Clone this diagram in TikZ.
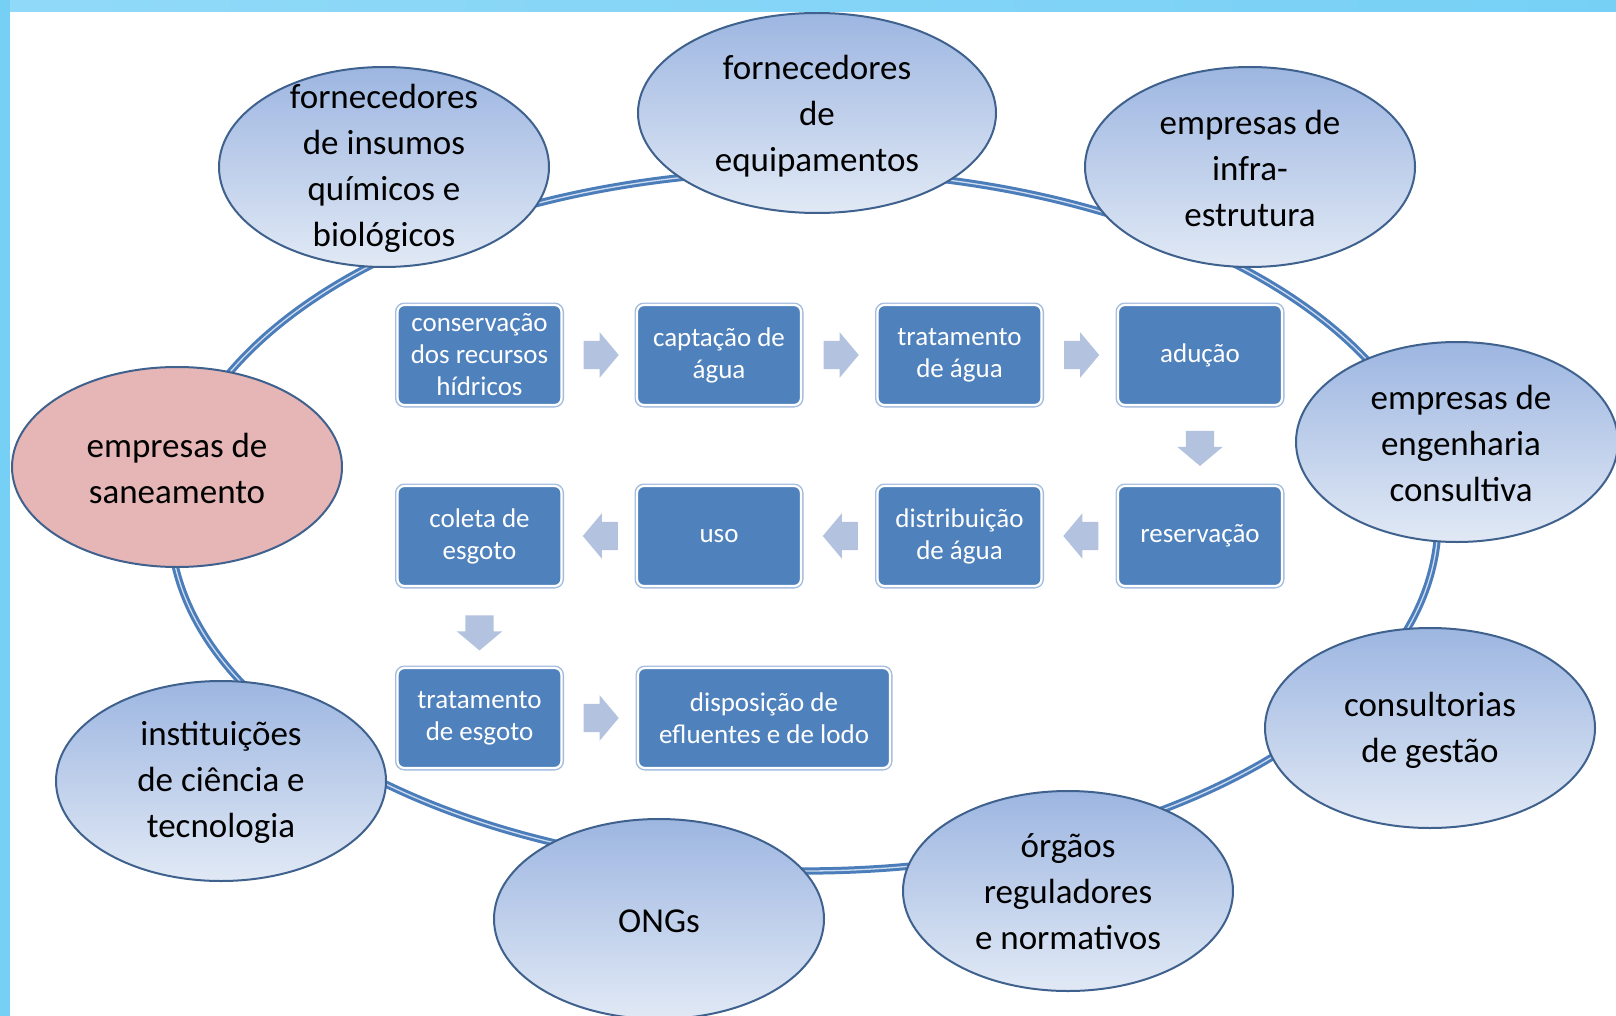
\documentclass[tikz,border=0pt]{standalone}
\usepackage{fontspec}
\setmainfont{Carlito}
\usetikzlibrary{shapes.geometric,shapes.arrows,calc}
\definecolor{boxblue}{HTML}{4F81BD}
\definecolor{boxedge}{HTML}{A3BBDD}
\definecolor{arrowc}{HTML}{B3C3DF}
\definecolor{bubtop}{HTML}{9DB6E1}
\definecolor{bubbot}{HTML}{E1E9F5}
\definecolor{bubedge}{HTML}{3F618D}
\definecolor{pinkfill}{HTML}{E6B5B5}
\definecolor{ringblue}{HTML}{4A7DBA}
\definecolor{ringlight}{HTML}{CFDCEF}
\definecolor{barblue}{HTML}{76D0F6}
\definecolor{barlight}{HTML}{DDF1FC}
\tikzset{
  bubble/.style={ellipse, draw=bubedge, line width=2pt, top color=bubtop, bottom color=bubbot,
    minimum width=330pt, minimum height=200pt, inner sep=0pt},
  pinkbubble/.style={ellipse, draw=bubedge, line width=2pt, fill=pinkfill,
    minimum width=330pt, minimum height=200pt, inner sep=0pt},
  btxt/.style={align=center, text=black, inner sep=0pt, font=\fontsize{35pt}{46pt}\selectfont},
  stepbox/.style={rectangle, rounded corners=7pt, fill=boxblue, draw=white, line width=2.2pt,
    preaction={draw=boxedge, line width=5pt},
    minimum width=164pt, minimum height=100pt, inner sep=2pt, align=center, text=white,
    font=\fontsize{27pt}{32pt}\selectfont},
  flow/.style={single arrow, fill=arrowc, draw=none, inner xsep=0pt, inner ysep=14pt,
    minimum height=35pt, minimum width=45pt, single arrow head extend=8.5pt,
    single arrow tip angle=100},
  ring/.style={draw=ringblue, line width=3pt, double=ringlight, double distance=1.3pt}
}
\begin{document}
\begin{tikzpicture}[x=1pt,y=-1pt]
\useasboundingbox (0,0) rectangle (1616,1016);
\clip (0,0) rectangle (1616,1016);
\fill[white] (0,0) rectangle (1616,1016);

% ring
\coordinate (rc) at (804,521);
\draw[ring] (rc) ellipse [x radius=634pt, y radius=350pt];

% outer bubbles
\node[bubble] (e1) at (384,167) {};
\node[bubble, minimum width=358pt] (e2) at (817,113) {};
\node[bubble] (e3) at (1250,167) {};
\node[bubble, minimum width=322pt] (e4) at (1457,442) {};
\node[bubble] (e5) at (1430,728) {};
\node[bubble] (e6) at (1068,891) {};
\node[bubble] (e7) at (659,919) {};
\node[bubble] (e8) at (221,781) {};
\node[pinkbubble] (e9) at (177,467) {};

\node[btxt] (t1) at ($(e1)+(0,1)$) {fornecedores\\de insumos\\químicos e\\biológicos};
\node[btxt] (t2) at ($(e2)+(0,3)$) {fornecedores\\de\\equipamentos};
\node[btxt] (t3) at ($(e3)+(0,1)$) {empresas de\\infra-\\estrutura};
\node[btxt] (t4) at ($(e4)+(4,1)$) {empresas de\\engenharia\\consultiva};
\node[btxt] (t5) at ($(e5)+(0,2)$) {consultorias\\de gestão};
\node[btxt] (t6) at ($(e6)+(0,1)$) {órgãos\\reguladores\\e normativos};
\node[btxt] (t7) at ($(e7)+(0,2)$) {ONGs};
\node[btxt] (t8) at ($(e8)+(0,1)$) {instituições\\de ciência e\\tecnologia};
\node[btxt] (t9) at ($(e9)+(0,1)$) {empresas de\\saneamento};

% process boxes
\node[stepbox] (b1) at (479.5,355) {conservação\\dos recursos\\hídricos};
\node[stepbox] (b2) at (719,355) {captação de\\água};
\node[stepbox] (b3) at (959.5,355) {tratamento\\de água};
\node[stepbox] (b4) at (1200,355) {adução};
\node[stepbox] (b5) at (1200,536) {reservação};
\node[stepbox] (b6) at (959.5,536) {distribuição\\de água};
\node[stepbox] (b7) at (719,536) {uso};
\node[stepbox] (b8) at (479.5,536) {coleta de\\esgoto};
\node[stepbox] (b9) at (479.5,718) {tratamento\\de esgoto};
\node[stepbox, minimum width=252pt] (b10) at (764,718) {disposição de\\efluentes e de lodo};

% block arrows
\node[flow] (a12) at ($(b1)!0.5!(b2)+(-4,0)$) {};
\node[flow] (a23) at ($(b2)!0.5!(b3)+(-4,0)$) {};
\node[flow] (a34) at ($(b3)!0.5!(b4)+(-4,0)$) {};
\node[flow, rotate=-90] (a45) at ($(b4)!0.5!(b5)+(0,-3)$) {};
\node[flow, rotate=180] (a56) at ($(b5)!0.5!(b6)+(7,0)$) {};
\node[flow, rotate=180] (a67) at ($(b6)!0.5!(b7)+(7,0)$) {};
\node[flow, rotate=180] (a78) at ($(b7)!0.5!(b8)+(7,0)$) {};
\node[flow, rotate=-90] (a89) at ($(b8)!0.5!(b9)$) {};
\node[flow] (a910) at (a12 |- b9) {};

% frame bars
\shade[left color=barblue!80!white, middle color=barlight, right color=barblue] (0,0) rectangle (1616,12);
\fill[barblue] (0,0) rectangle (10,1016);
\end{tikzpicture}
\end{document}
